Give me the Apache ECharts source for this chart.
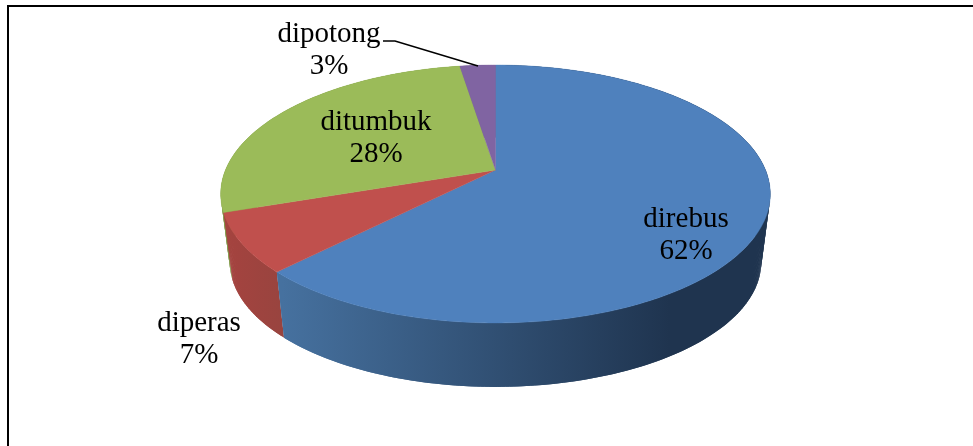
<!DOCTYPE html>
<html>
<head>
<meta charset="utf-8">
<style>html,body{margin:0;padding:0;background:#fff}#c{width:973px;height:446px}</style>
<script src="https://cdn.jsdelivr.net/npm/echarts@6/dist/echarts.min.js"></script>
</head>
<body>
<div id="c"></div>
<script>
// Data (shares of the whole, percent)
const categories = ['direbus', 'diperas', 'ditumbuk', 'dipotong'];
const values = [62.4, 7.4, 27.7, 2.5];

// Styles and layout, kept apart from the data
const topColors = ['#4f81bd', '#c0504d', '#9bbb59', '#8064a2'];
const wallStops = [
  [[0, '#46719f'], [1, '#1f344f']],
  [[0, '#a5433f'], [1, '#98443f']],
  [[0, '#7f9a48'], [1, '#7f9a48']],
  [[0, '#67508a'], [1, '#67508a']]
];
const wallGradientX = [[282, 670], [225, 285], [220, 500], [460, 500]];
const labelCentres = [[686, 235], [199, 339], [376, 138], [329, 50]];
const FONT = '"Liberation Serif", serif';
const LABEL_SIZE = 29;

// Perspective view of the pie's disc
const view = { cx: 495.5, apexY: 170, rx: 270, ry: 124.5, persp: 0.186, baseScale: 0.967, baseDrop: 69 };
const total = values.reduce((a, b) => a + b, 0);

function sliceRange(i) {
  let before = 0;
  for (let k = 0; k < i; k++) before += values[k];
  return [before / total * 2 * Math.PI, (before + values[i]) / total * 2 * Math.PI];
}
function rimPoint(theta, base) {
  const u = -Math.cos(theta);
  const s = 1 / (1 - view.persp * u) * (base ? view.baseScale : 1);
  return [view.cx + view.rx * Math.sin(theta) * s,
          view.apexY + (base ? view.baseDrop : 0) + view.ry * u * s];
}
function rimArc(a0, a1, base) {
  const n = Math.max(2, Math.ceil((a1 - a0) / (Math.PI / 240)));
  const pts = [];
  for (let i = 0; i <= n; i++) pts.push(rimPoint(a0 + (a1 - a0) * i / n, base));
  return pts;
}
// The wall is a ruled surface: small overlapping quads so that its silhouette
// includes the straight tangent edges between the top rim and the base rim.
function renderWall(params) {
  // walls are painted back to front: the data runs in reverse slice order
  const i = values.length - 1 - params.dataIndex;
  const [a0, a1] = sliceRange(i);
  const top = rimArc(a0, a1, false);
  const bot = rimArc(a0, a1, true);
  const gx = wallGradientX[i];
  const fill = new echarts.graphic.LinearGradient(gx[0], 0, gx[1], 0,
    wallStops[i].map(s => ({ offset: s[0], color: s[1] })), true);
  const children = [];
  for (let k = 0; k < top.length - 1; k++) {
    const e = Math.min(k + 2, top.length - 1);
    children.push({
      type: 'polygon',
      shape: { points: [top[k], top[e], bot[e], bot[k]] },
      style: { fill: fill }
    });
  }
  return { type: 'group', children: children };
}
function renderTop(params) {
  const i = params.dataIndex;
  const [a0, a1] = sliceRange(i);
  const pts = [[view.cx, view.apexY]].concat(rimArc(a0, a1, false));
  return {
    type: 'polygon',
    shape: { points: pts },
    style: { fill: topColors[i], stroke: topColors[i], lineWidth: 0.4 }
  };
}
function renderLabel(params) {
  const i = params.dataIndex;
  const c = labelCentres[i];
  const pct = Math.round(values[i] / total * 100) + '%';
  return {
    type: 'text',
    x: c[0], y: c[1],
    style: {
      text: categories[i] + '\n' + pct,
      font: LABEL_SIZE + 'px ' + FONT,
      lineHeight: 32,
      fill: '#000',
      align: 'center',
      verticalAlign: 'middle'
    }
  };
}
const seriesData = values.map((v, i) => ({ name: categories[i], value: v }));
const chart = echarts.init(document.getElementById('c'), null, { renderer: 'canvas' });
chart.setOption({
  animation: false,
  backgroundColor: '#fff',
  series: [
    { type: 'custom', coordinateSystem: 'none', silent: true, z: 1, data: seriesData.slice().reverse(), renderItem: renderWall },
    { type: 'custom', coordinateSystem: 'none', silent: true, z: 2, data: seriesData, renderItem: renderTop },
    { type: 'custom', coordinateSystem: 'none', silent: true, z: 4, data: seriesData, renderItem: renderLabel }
  ],
  graphic: [
    { type: 'polyline', z: 5, silent: true, shape: { points: [[8, 446], [8, 6], [973, 6]] }, style: { stroke: '#000', lineWidth: 2, fill: null } },
    { type: 'polyline', z: 5, silent: true, shape: { points: [[383, 41], [395, 41], [478, 66]] }, style: { stroke: '#000', lineWidth: 1.6, fill: null } }
  ]
});
</script>
</body>
</html>
